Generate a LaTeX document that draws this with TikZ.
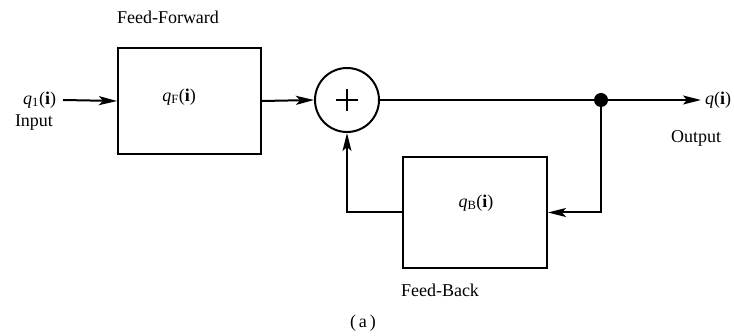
\documentclass[tikz,border=0pt]{standalone}
\usepackage{fontspec}
\setmainfont{Liberation Serif}
\usetikzlibrary{arrows.meta}
\begin{document}
\begin{tikzpicture}[x=1pt,y=-1pt,line width=2pt,
  lbl/.style={font=\fontsize{18}{20}\selectfont,inner sep=0pt},
  blk/.style={draw,inner sep=0pt,anchor=north west},
  arr/.style={-{Stealth[length=18pt,width=9pt,inset=4pt]}},
  junc/.style={circle,fill,minimum size=14pt,inner sep=0pt}]
\useasboundingbox (0,0) rectangle (734,336);
% blocks
\node[blk,minimum width=143pt,minimum height=106pt] (ff) at (117,47) {};
\node[blk,minimum width=144pt,minimum height=111pt] (fb) at (402,156) {};
\node[lbl] (ffq) at (179,97) {\textit{q}\textsubscript{F}(\textbf{i})};
\node[lbl] (fbq) at (476,203) {\textit{q}\textsubscript{B}(\textbf{i})};
\node[lbl] (ffl) at (168,17) {Feed-Forward};
\node[lbl] (fbl) at (440,290) {Feed-Back};
% summing junction
\node[circle,draw,minimum size=64pt,inner sep=0pt] (sum) at (347,100) {};
\draw[line width=2.6pt] ([xshift=-11pt]sum.center) -- ([xshift=11pt]sum.center)
  ([yshift=-11pt]sum.center) -- ([yshift=11pt]sum.center);
% input / output
\node[lbl,anchor=east] (qin) at (57,100) {\textit{q}\textsubscript{1}(\textbf{i})};
\node[lbl] (inl) at (34,123) {Input};
\coordinate (inA) at (63,100);
\node[junc] (dot) at (601,100) {};
\coordinate (outE) at (701,100);
\node[lbl,anchor=west] (qout) at (704,100) {\textit{q}(\textbf{i})};
\node[lbl] (outl) at (696,138) {Output};
\node[lbl] (cap) at (363,323) {(\,a\,)};
% connectors
\draw[arr] (inA) -- (ff.west);
\draw[arr] (ff.east) -- (sum.west);
\draw (sum.east) -- (dot.center);
\draw[arr] (dot.center) -- (outE);
\draw[arr] (dot.center) |- (fb.east);
\draw[arr] (fb.west) -| (sum.south);
\end{tikzpicture}
\end{document}
